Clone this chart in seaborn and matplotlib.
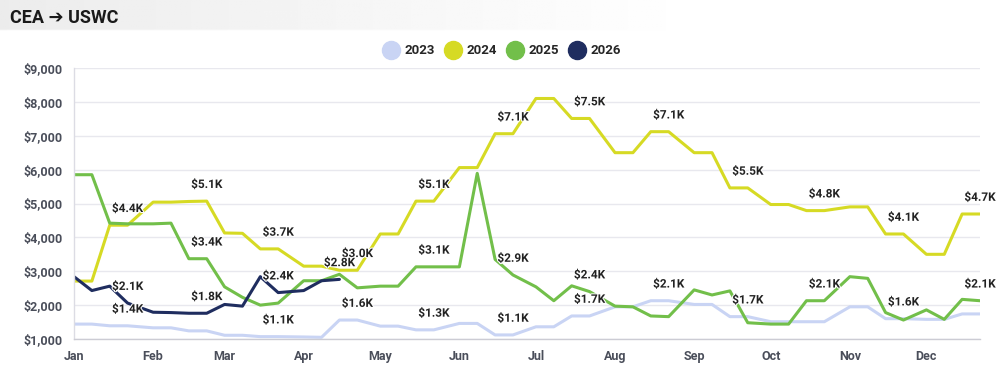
import numpy as np
import pandas as pd
import matplotlib.pyplot as plt
import seaborn as sns
import matplotlib.patheffects as pe
from matplotlib.lines import Line2D
from matplotlib.ticker import FuncFormatter

# Dữ liệu: giá cước CEA -> USWC, 4 điểm mỗi tháng (ngày 1, 8, 15, 22)
years = ['2023', '2024', '2025', '2026']
colors = ['#c9d4f4', '#d6da24', '#72bf4a', '#1f2d5f']
months = ['Jan', 'Feb', 'Mar', 'Apr', 'May', 'Jun',
          'Jul', 'Aug', 'Sep', 'Oct', 'Nov', 'Dec']
month_start = [0, 31, 59, 90, 120, 151, 181, 212, 243, 273, 304, 334]
week_days = [0, 7, 14, 21]

price_2023 = [1440, 1440, 1390, 1390, 1330, 1330, 1240, 1240,
              1110, 1110, 1070, 1070, 1060, 1050, 1560, 1560,
              1380, 1380, 1270, 1270, 1460, 1460, 1120, 1120,
              1360, 1360, 1680, 1680, 1950, 1950, 2130, 2130,
              2020, 2020, 1660, 1660, 1510, 1510, 1510, 1510,
              1950, 1950, 1600, 1600, 1580, 1580, 1740, 1740]
price_2024 = [2710, 2710, 4360, 4360, 5040, 5040, 5060, 5070,
              4130, 4120, 3660, 3660, 3150, 3150, 3030, 3030,
              4100, 4100, 5070, 5070, 6060, 6060, 7060, 7060,
              8100, 8100, 7510, 7510, 6500, 6500, 7120, 7120,
              6500, 6500, 5460, 5460, 4970, 4970, 4790, 4790,
              4900, 4900, 4100, 4100, 3500, 3500, 4690, 4690]
price_2025 = [5850, 5850, 4420, 4400, 4400, 4420, 3370, 3370,
              2540, 2230, 2000, 2060, 2720, 2720, 2910, 2510,
              2560, 2560, 3130, 3130, 3130, 5890, 3350, 2890,
              2540, 2130, 2570, 2400, 1970, 1950, 1680, 1660,
              2450, 2300, 2420, 1480, 1440, 1440, 2130, 2130,
              2840, 2790, 1780, 1560, 1860, 1580, 2170, 2130]
price_2026 = [2840, 2430, 2560, 2060, 1790, 1780, 1760, 1760,
              2020, 1970, 2840, 2370, 2430, 2720, 2760]

# các điểm có nhãn giá
labels_2023 = [3, 11, 15, 19, 23, 27, 31, 35, 43]
labels_2024 = [3, 7, 11, 15, 19, 23, 27, 31, 35, 39, 43, 47]
labels_2025 = [7, 19, 23, 27, 39, 47]
labels_2026 = [3, 7, 11, 14]

days = [m + d for m in month_start for d in week_days]
series = [price_2023, price_2024, price_2025, price_2026]
label_idx = [labels_2023, labels_2024, labels_2025, labels_2026]

rows = []
for y, vals in zip(years, series):
    for d, v in zip(days, vals):
        rows.append({'day': d, 'price': v, 'year': y})
df = pd.DataFrame(rows)

sns.set_theme(style='white')
plt.rcParams['font.family'] = ['Roboto', 'DejaVu Sans']

fig = plt.figure(figsize=(9.99, 3.74), dpi=100)

# nền tiêu đề
bg = fig.add_axes([0, 0, 1, 1], zorder=-10)
bg.axis('off')
gx = np.linspace(0, 999, 400)
gy = np.linspace(0, 374, 150)
shade = np.clip(1 - gx / 700, 0, 1)[None, :] * (gy[:, None] < 28)
img = 1 - 0.075 * shade
bg.imshow(img, cmap='gray', vmin=0, vmax=1, extent=[0, 999, 374, 0], aspect='auto')
bg.set_xlim(0, 999)
bg.set_ylim(374, 0)

ax = fig.add_axes([74 / 999, 35 / 374, 906 / 999, 271 / 374])
ax.set_facecolor('none')

sns.lineplot(data=df, x='day', y='price', hue='year', hue_order=years,
             palette=colors, linewidth=2.2, legend=False, ax=ax)

for y, vals, idx in zip(years, series, label_idx):
    for i in idx:
        ax.annotate(f"${vals[i] / 1000:.1f}K", (days[i], vals[i]),
                    xytext=(0, 12), textcoords='offset points',
                    ha='center', va='center', fontsize=8.5, fontweight='bold',
                    color='#222222',
                    path_effects=[pe.withStroke(linewidth=1.5, foreground='white')])

ax.set_xlim(0, 355)
ax.set_ylim(1000, 9000)
ax.set_yticks(range(1000, 9001, 1000))
ax.yaxis.set_major_formatter(FuncFormatter(lambda v, p: f"${v:,.0f}"))
ax.set_xticks(month_start)
ax.set_xticklabels(months)
ax.tick_params(axis='both', length=0, labelsize=9, labelcolor='#4a4e5a', pad=8)
for lab in ax.get_xticklabels() + ax.get_yticklabels():
    lab.set_fontweight('bold')
ax.grid(axis='y', color='#e8e8ee', linewidth=1)
ax.set_xlabel('')
ax.set_ylabel('')
for s in ['top', 'right']:
    ax.spines[s].set_visible(False)
ax.spines['left'].set_color('#dcdce4')
ax.spines['bottom'].set_color('#ccccd4')
ax.spines['left'].set_linewidth(1)
ax.spines['bottom'].set_linewidth(1)

fig.text(10 / 999, 1 - 18 / 374, 'CEA ➔ USWC', fontsize=13, fontweight='bold',
         va='center', ha='left', color='#1a1a1a')

handles = [Line2D([], [], marker='o', linestyle='', markersize=13,
                  markerfacecolor=c, markeredgecolor=c) for c in colors]
fig.legend(handles, years, loc='center', bbox_to_anchor=(0.5, 1 - 51 / 374),
           ncol=4, frameon=False, handletextpad=0.05, columnspacing=0.35,
           prop={'weight': 'bold', 'size': 9.5})

fig.savefig('out.png', dpi=100)
